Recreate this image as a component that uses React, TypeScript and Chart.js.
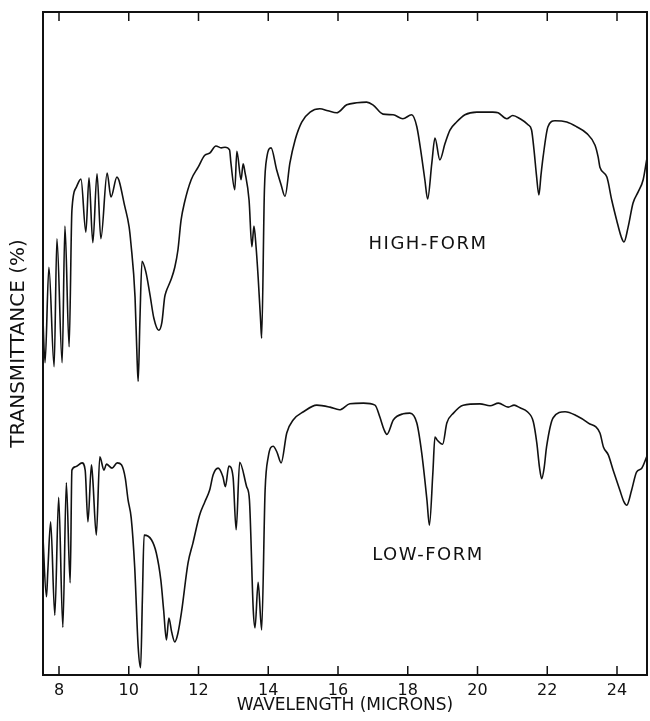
import React, { useEffect, useRef } from "react";
import { Chart, registerables } from "chart.js";

Chart.register(...registerables);

// Wavelength (microns) and transmittance (arbitrary 0-100 chart units)
const highX = [7.51, 7.6, 7.71, 7.86, 7.94, 8.09, 8.17, 8.29, 8.37, 8.49, 8.63, 8.77, 8.86, 8.97, 9.09, 9.2, 9.38, 9.49, 9.66, 9.89, 10.01, 10.06, 10.18, 10.24, 10.27, 10.32, 10.38, 10.49, 10.61, 10.72, 10.86, 10.95, 11.03, 11.07, 11.21, 11.32, 11.41, 11.5, 11.6, 11.79, 11.99, 12.18, 12.32, 12.5, 12.65, 12.76, 12.89, 12.93, 13.04, 13.1, 13.22, 13.28, 13.33, 13.45, 13.53, 13.59, 13.65, 13.71, 13.78, 13.81, 13.89, 13.96, 14.08, 14.24, 14.37, 14.48, 14.62, 14.77, 14.96, 15.2, 15.48, 15.71, 15.96, 16.25, 16.54, 16.82, 17.0, 17.29, 17.58, 17.86, 18.11, 18.26, 18.4, 18.49, 18.57, 18.69, 18.78, 18.92, 19.07, 19.21, 19.4, 19.64, 19.98, 20.44, 20.59, 20.84, 21.01, 21.22, 21.45, 21.55, 21.62, 21.69, 21.76, 21.82, 21.88, 22.02, 22.22, 22.56, 22.84, 23.13, 23.37, 23.46, 23.51, 23.71, 23.85, 23.99, 24.12, 24.2, 24.32, 24.46, 24.61, 24.75, 24.85];
const highY = [58.8, 47.1, 61.5, 46.5, 65.8, 47.1, 67.7, 49.5, 70.1, 73.5, 74.8, 66.8, 75.0, 65.2, 75.6, 65.8, 75.7, 72.1, 75.1, 70.6, 67.6, 65.2, 57.0, 47.5, 44.3, 53.5, 62.4, 60.8, 57.3, 53.8, 52.0, 53.2, 57.0, 57.8, 59.6, 61.5, 64.1, 68.6, 71.3, 74.7, 76.6, 78.4, 78.7, 79.8, 79.5, 79.6, 79.2, 77.2, 73.2, 79.0, 74.7, 77.1, 75.9, 71.6, 64.6, 67.7, 64.6, 60.0, 53.5, 50.8, 73.2, 78.1, 79.5, 76.2, 73.9, 72.2, 77.2, 80.7, 83.4, 84.9, 85.4, 85.1, 84.8, 86.0, 86.3, 86.4, 86.0, 84.6, 84.5, 83.9, 84.5, 82.7, 78.1, 74.7, 71.8, 77.2, 81.0, 77.7, 80.2, 82.2, 83.4, 84.5, 84.9, 84.9, 84.8, 83.9, 84.4, 83.9, 83.0, 82.2, 79.2, 75.4, 72.4, 75.4, 78.1, 82.7, 83.6, 83.4, 82.7, 81.7, 79.9, 78.1, 76.6, 75.1, 71.6, 68.6, 66.1, 65.3, 67.6, 71.2, 72.9, 74.7, 77.7];

const lowX = [7.53, 7.64, 7.68, 7.76, 7.88, 7.99, 8.11, 8.21, 8.32, 8.37, 8.47, 8.66, 8.75, 8.83, 8.93, 8.97, 9.07, 9.17, 9.29, 9.36, 9.52, 9.67, 9.79, 9.9, 9.98, 10.07, 10.17, 10.27, 10.34, 10.39, 10.44, 10.65, 10.79, 10.92, 11.0, 11.08, 11.15, 11.23, 11.32, 11.41, 11.51, 11.7, 11.84, 12.03, 12.18, 12.32, 12.42, 12.56, 12.7, 12.77, 12.87, 12.99, 13.08, 13.18, 13.38, 13.46, 13.57, 13.62, 13.71, 13.81, 13.91, 14.0, 14.14, 14.25, 14.37, 14.53, 14.72, 15.01, 15.39, 15.77, 16.04, 16.34, 16.73, 17.06, 17.2, 17.32, 17.4, 17.59, 17.87, 18.06, 18.26, 18.4, 18.55, 18.62, 18.72, 18.78, 18.85, 19.0, 19.12, 19.31, 19.59, 20.07, 20.36, 20.6, 20.88, 21.05, 21.22, 21.43, 21.6, 21.7, 21.78, 21.84, 21.91, 21.98, 22.17, 22.51, 22.84, 23.18, 23.51, 23.61, 23.75, 23.89, 24.08, 24.2, 24.28, 24.42, 24.56, 24.71, 24.85];
const lowY = [21.9, 11.8, 15.8, 23.1, 9.0, 26.8, 7.2, 29.0, 13.9, 30.9, 31.4, 32.0, 30.9, 23.1, 31.7, 29.4, 21.1, 32.9, 30.9, 31.8, 31.2, 32.0, 31.7, 29.7, 26.4, 23.7, 16.3, 4.2, 1.1, 11.3, 21.1, 20.4, 18.4, 14.3, 9.8, 5.3, 8.6, 6.5, 5.0, 6.3, 9.4, 16.9, 19.9, 24.1, 26.1, 27.9, 30.2, 31.2, 29.9, 28.4, 31.5, 29.9, 21.9, 32.1, 28.4, 26.4, 9.8, 7.1, 14.0, 6.8, 27.9, 32.9, 34.5, 33.6, 32.0, 36.5, 38.5, 39.7, 40.7, 40.4, 40.0, 40.9, 41.0, 40.7, 38.9, 37.0, 36.3, 38.5, 39.4, 39.5, 38.0, 33.5, 26.4, 22.6, 30.5, 35.9, 35.4, 34.8, 38.0, 39.5, 40.7, 40.9, 40.6, 41.0, 40.4, 40.7, 40.3, 39.7, 38.2, 35.0, 31.2, 29.6, 31.2, 34.4, 38.8, 39.7, 39.1, 38.0, 36.5, 34.4, 33.2, 30.9, 27.9, 26.1, 25.6, 27.9, 30.6, 31.2, 32.9];

const xTickValues = [8, 10, 12, 14, 16, 18, 20, 22, 24];
const xMin = 7.541;
const xMax = 24.86;

const curveLabels = ["HIGH-FORM", "LOW-FORM"];
const curveLabelX = [18.58, 18.58];
const curveLabelY = [64.9, 18.1];

const FONT = '"DejaVu Sans", "Liberation Sans", sans-serif';

const framePlugin = {
  id: "frameTicksLabels",
  afterDraw(chart: any) {
    const { ctx, chartArea, scales } = chart;
    const { left, right, top, bottom } = chartArea;
    const xs = scales.x;
    const ys = scales.y;
    ctx.save();
    ctx.strokeStyle = "#111";
    ctx.lineWidth = 2;
    ctx.strokeRect(left, top, right - left, bottom - top);
    ctx.lineWidth = 1.5;
    for (const v of xTickValues) {
      const px = xs.getPixelForValue(v);
      ctx.beginPath();
      ctx.moveTo(px, bottom);
      ctx.lineTo(px, bottom - 9);
      ctx.moveTo(px, top);
      ctx.lineTo(px, top + 9);
      ctx.stroke();
    }
    ctx.fillStyle = "#111";
    ctx.font = `18px ${FONT}`;
    try {
      (ctx as any).letterSpacing = "1.5px";
    } catch (e) {}
    ctx.textAlign = "center";
    ctx.textBaseline = "middle";
    curveLabels.forEach((t, i) => {
      ctx.fillText(t, xs.getPixelForValue(curveLabelX[i]), ys.getPixelForValue(curveLabelY[i]));
    });
    ctx.restore();
  },
};

export default function App() {
  const canvasRef = useRef<HTMLCanvasElement | null>(null);

  useEffect(() => {
    if (!canvasRef.current) return;
    const toPts = (xs: number[], ys: number[]) => xs.map((x, i) => ({ x, y: ys[i] }));
    const chart = new Chart(canvasRef.current, {
      type: "line",
      data: {
        datasets: [
          {
            label: "High-form",
            data: toPts(highX, highY),
            borderColor: "#111",
            borderWidth: 1.6,
            pointRadius: 0,
            fill: false,
            cubicInterpolationMode: "monotone",
          },
          {
            label: "Low-form",
            data: toPts(lowX, lowY),
            borderColor: "#111",
            borderWidth: 1.6,
            pointRadius: 0,
            fill: false,
            cubicInterpolationMode: "monotone",
          },
        ],
      },
      options: {
        animation: false,
        responsive: false,
        devicePixelRatio: 1,
        layout: { padding: { top: 12, right: 3, left: 0, bottom: 0 } },
        plugins: { legend: { display: false }, tooltip: { enabled: false } },
        scales: {
          x: {
            type: "linear",
            min: xMin,
            max: xMax,
            grid: { display: false, drawTicks: false },
            border: { display: false },
            afterBuildTicks: (scale: any) => {
              scale.ticks = xTickValues.map((v) => ({ value: v }));
            },
            afterFit: (scale: any) => {
              scale.height = 46;
            },
            ticks: {
              color: "#111",
              font: { family: FONT, size: 16 },
              padding: 6,
              maxRotation: 0,
              autoSkip: false,
              callback: (v: any) => String(v),
            },
            title: {
              display: true,
              text: "WAVELENGTH (MICRONS)",
              color: "#111",
              font: { family: FONT, size: 17 },
              padding: { top: 0, bottom: 5 },
            },
          },
          y: {
            type: "linear",
            min: 0,
            max: 100,
            grid: { display: false, drawTicks: false },
            border: { display: false },
            ticks: { display: false },
            afterFit: (scale: any) => {
              scale.width = 43;
            },
            title: {
              display: true,
              text: "TRANSMITTANCE (%)",
              color: "#111",
              font: { family: FONT, size: 20 },
              padding: { top: 7, bottom: 0 },
            },
          },
        },
      },
      plugins: [framePlugin],
    } as any);
    return () => chart.destroy();
  }, []);

  return (
    <div style={{ position: "absolute", left: 0, top: 0, width: 650, height: 721, background: "#fff" }}>
      <canvas ref={canvasRef} width={650} height={721} style={{ display: "block" }} />
    </div>
  );
}
